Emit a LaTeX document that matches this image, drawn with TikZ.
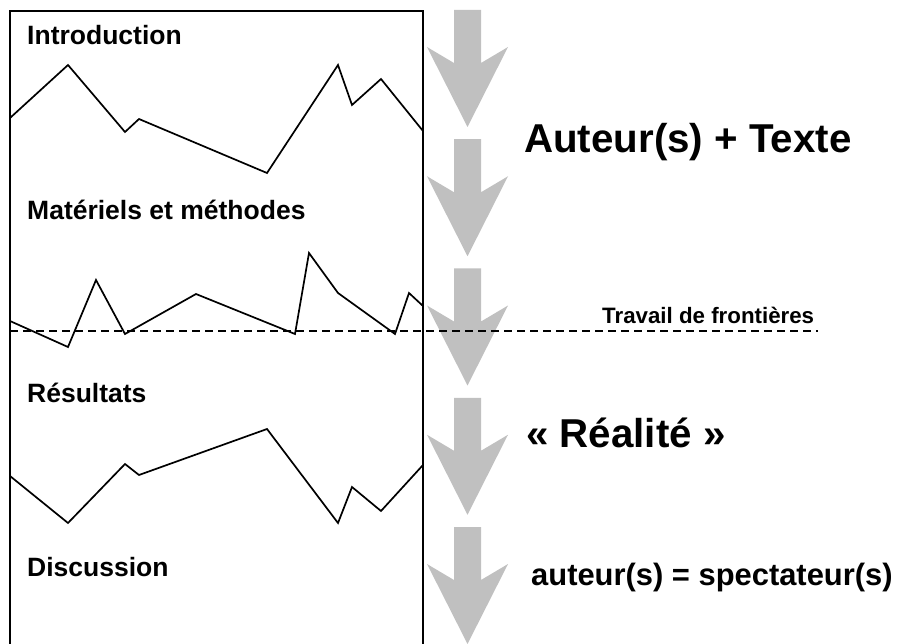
\documentclass[tikz,border=0pt]{standalone}
\usepackage{fontspec}
\setmainfont{Liberation Sans}
\usepackage{xcolor}
\usepackage{tikz}

\definecolor{arrowgray}{RGB}{192,192,192}

\begin{document}
\begin{tikzpicture}[
  x=1pt, y=-1pt,
  section/.style={anchor=base west,inner sep=0pt,font=\fontsize{26.5}{30}\selectfont\bfseries},
  bigtext/.style={anchor=base west,inner sep=0pt,font=\fontsize{40.3}{46}\selectfont\bfseries},
  midtext/.style={anchor=base west,inner sep=0pt,font=\fontsize{30.9}{36}\selectfont\bfseries},
  smalltext/.style={anchor=base west,inner sep=0pt,font=\fontsize{22.3}{26}\selectfont\bfseries},
  profile/.style={draw,line width=1.7pt,line join=miter},
  bigarrow/.style={fill=arrowgray,draw=none}
]
\useasboundingbox (0,0) rectangle (899,644);

% Article frame
\draw[line width=1.8pt] (10,644) -- (10,11) -- (423,11) -- (423,644);

% Grey arrows
\foreach \t in {10,139.25,268.5,397.75,527}
  \fill[bigarrow] (454,\t) -- (481,\t) -- (481,\t+53) -- (508,\t+37)
    -- (467.5,\t+117) -- (427,\t+37) -- (454,\t+53) -- cycle;

% Section titles
\node[section] (intro) at (27,45) {Introduction};
\node[section] (methods) at (27,220) {Matériels et méthodes};
\node[section] (results) at (27,402) {Résultats};
\node[section] (discuss) at (27,576) {Discussion};

% Profiles
\draw[profile] (10,118) -- (68,65) -- (125,132) -- (139,119) -- (267,173)
  -- (338,65) -- (352,105) -- (381,79) -- (423,131);
\draw[profile] (10,321) -- (68,347) -- (96,280) -- (125,334) -- (196,294)
  -- (295,334) -- (309,253) -- (338,293) -- (395,334) -- (409,293) -- (423,306);
\draw[profile] (10,476) -- (68,523) -- (125,464) -- (139,475) -- (267,429)
  -- (338,523) -- (352,487) -- (381,511) -- (423,465);

% Boundary line
\coordinate (bleft) at (10,331);
\coordinate (bright) at (818,331);
\draw[dashed,dash pattern=on 8pt off 5pt,line width=1.1pt] (bleft) -- (bright);
\node[smalltext] (border) at (602,323) {Travail de frontières};

% Right-hand captions
\node[bigtext] (authors) at (524,153) {Auteur(s) + Texte};
\node[bigtext] (reality) at (526,447) {« Réalité »};
\node[midtext] (spect) at (531,585) {auteur(s) = spectateur(s)};

\end{tikzpicture}
\end{document}
